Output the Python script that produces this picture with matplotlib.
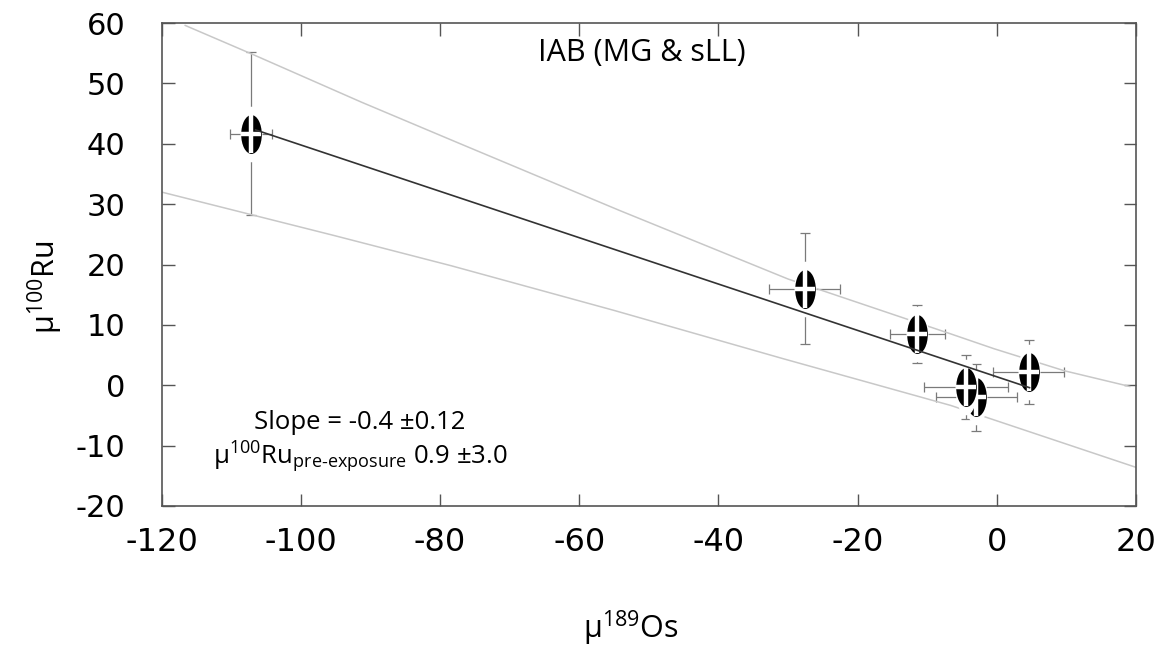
import numpy as np
import matplotlib
matplotlib.use("Agg")
import matplotlib.pyplot as plt
from matplotlib.path import Path
from matplotlib.transforms import Affine2D

plt.rcParams['font.family'] = ['Open Sans', 'DejaVu Sans']
plt.rcParams['mathtext.fontset'] = 'custom'
plt.rcParams['mathtext.rm'] = 'Open Sans'
plt.rcParams['mathtext.it'] = 'Open Sans'

# data (drawing order: the 5th point sits under the 6th)
os189 = [-107.2, -27.6, -11.4, 4.6, -2.95, -4.4]
os189_err = [3.0, 5.1, 4.0, 5.1, 5.85, 6.0]
ru100 = [41.7, 16.0, 8.5, 2.2, -2.0, -0.3]
ru100_err = [13.5, 9.2, 4.85, 5.35, 5.6, 5.3]

# regression line and its error envelope
fit_x = [-106.5, 4.7]
fit_y = [42.3, -0.4]
upper_x = [-116.6, -106.7, -91.3, -77.5, -54.3, -30.0, -6.6, -0.4, 9.7, 19.1]
upper_y = [59.6, 54.7, 46.9, 40.2, 29.0, 17.6, 8.5, 6.05, 2.4, -0.2]
lower_x = [-120.0, -95.2, -78.4, -55.0, -30.7, -6.6, 20.0]
lower_y = [32.0, 24.8, 19.8, 12.4, 4.4, -3.35, -13.6]

xticks = [-120, -100, -80, -60, -40, -20, 0, 20]
yticks = [-20, -10, 0, 10, 20, 30, 40, 50, 60]

fig = plt.figure(figsize=(11.69, 6.54), dpi=100)
ax = fig.add_axes([0.1382, 0.2263, 0.8336, 0.7385])

# envelope and fit
ax.plot(upper_x, upper_y, color='#c8c8c8', lw=1.1, zorder=2.2)
ax.plot(lower_x, lower_y, color='#c8c8c8', lw=1.1, zorder=2.2)
ax.plot(fit_x, fit_y, color='#333333', lw=1.2, zorder=10)

ax.errorbar(os189, ru100, xerr=os189_err, yerr=ru100_err, fmt='none',
            ecolor='#7a7a7a', elinewidth=0.9, capsize=3.3, capthick=0.9, zorder=2)

# elliptical markers with a white cross and a white halo
ell = Path.unit_circle()
marker_shape = ell.transformed(Affine2D().scale(0.53, 1.0))
halo_shape = ell.transformed(Affine2D().scale(0.38, 1.0))
for i in range(len(os189)):
    z = 3 + i * 0.1
    ax.plot(os189[i], ru100[i], marker=halo_shape, ms=39, color='white', mec='white', zorder=z)
    ax.plot(os189[i], ru100[i], marker=marker_shape, ms=28, color='black', mec='black', mew=0, zorder=z + 0.01)
    ax.plot(os189[i], ru100[i], marker='|', ms=28, mec='white', mew=3.2, zorder=z + 0.02)
    ax.plot(os189[i], ru100[i], marker='_', ms=15, mec='white', mew=3.2, zorder=z + 0.02)

ax.set_xlim(-120, 20)
ax.set_ylim(-20, 60)
ax.set_xticks(xticks)
ax.set_yticks(yticks)
ax.set_xticklabels([str(t) for t in xticks], family=['Liberation Sans Narrow', 'DejaVu Sans'], fontsize=23)
ax.set_yticklabels([str(t) for t in yticks], family=['DejaVu Sans'], fontsize=22)
ax.tick_params(direction='in', length=9, width=1, color='#555555', top=True, right=True)
ax.tick_params(axis='x', pad=15)
ax.tick_params(axis='y', pad=26)
for s in ax.spines.values():
    s.set_color('#555555')
    s.set_linewidth(1.2)

ax.text(-51, 55, 'IAB (MG & sLL)', fontsize=22, ha='center', va='center')
ax.text(-91.6, -6.2, 'Slope = -0.4 ±0.12', fontsize=18.5, ha='center', va='center')
ax.text(-112.6, -12.0, 'μ$^{100}$Ru$_{\\mathrm{pre‐exposure}}$ 0.9 ±3.0', fontsize=18.5, ha='left', va='center')

fig.text(631 / 1169, 1 - 628 / 654, 'μ$^{189}$Os', fontsize=22, ha='center', va='center')
fig.text(45 / 1169, 1 - 287 / 654, 'μ$^{100}$Ru', fontsize=22, ha='center', va='center', rotation=90)

fig.savefig('out.png', dpi=100)
